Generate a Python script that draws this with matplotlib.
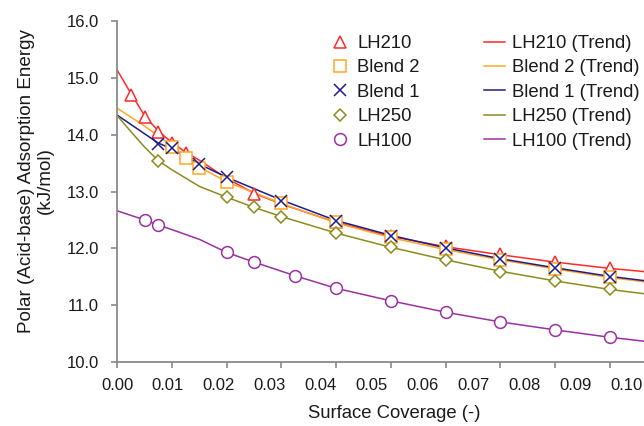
import matplotlib
matplotlib.use("Agg")
import matplotlib.pyplot as plt
from matplotlib.ticker import FixedLocator, FixedFormatter

plt.rcParams['font.family'] = ['Liberation Sans', 'DejaVu Sans']

# ---------------- data ----------------
series_names = ["LH210", "Blend 2", "Blend 1", "LH250", "LH100"]

lh210_x = [0.0025, 0.005, 0.0075, 0.01, 0.0125, 0.025, 0.04, 0.05, 0.06, 0.07, 0.08, 0.09]
lh210_y = [14.70, 14.31, 14.05, 13.86, 13.68, 12.96, 12.47, 12.22, 12.04, 11.90, 11.77, 11.65]

blend2_x = [0.01, 0.0125, 0.015, 0.02, 0.03, 0.04, 0.05, 0.06, 0.07, 0.08, 0.09]
blend2_y = [13.78, 13.59, 13.42, 13.17, 12.80, 12.46, 12.20, 11.99, 11.80, 11.64, 11.49]

blend1_x = [0.0075, 0.01, 0.015, 0.02, 0.03, 0.04, 0.05, 0.06, 0.07, 0.08, 0.09]
blend1_y = [13.83, 13.76, 13.48, 13.25, 12.84, 12.48, 12.22, 12.00, 11.81, 11.65, 11.50]

lh250_x = [0.0075, 0.02, 0.025, 0.03, 0.04, 0.05, 0.06, 0.07, 0.08, 0.09]
lh250_y = [13.54, 12.90, 12.72, 12.56, 12.27, 12.02, 11.80, 11.59, 11.43, 11.28]

lh100_x = [0.005, 0.0075, 0.02, 0.025, 0.0325, 0.04, 0.05, 0.06, 0.07, 0.08, 0.09]
lh100_y = [12.50, 12.41, 11.93, 11.76, 11.52, 11.30, 11.08, 10.88, 10.71, 10.57, 10.44]

# trend lines
lh210_trend_x = [0, 0.0025, 0.005, 0.0075, 0.01, 0.0125, 0.015, 0.02, 0.025, 0.03, 0.04, 0.05, 0.06, 0.07, 0.08, 0.09, 0.10, 0.11]
lh210_trend_y = [15.13, 14.72, 14.33, 14.06, 13.86, 13.69, 13.55, 13.23, 12.97, 12.78, 12.46, 12.21, 12.03, 11.89, 11.76, 11.65, 11.56, 11.48]

blend2_trend_x = [0, 0.005, 0.01, 0.0125, 0.015, 0.02, 0.03, 0.04, 0.05, 0.06, 0.07, 0.08, 0.09, 0.10, 0.11]
blend2_trend_y = [14.46, 14.15, 13.80, 13.60, 13.43, 13.17, 12.79, 12.45, 12.19, 11.98, 11.80, 11.64, 11.49, 11.37, 11.26]

blend1_trend_x = [0, 0.0075, 0.01, 0.015, 0.02, 0.03, 0.04, 0.05, 0.06, 0.07, 0.08, 0.09, 0.10, 0.11]
blend1_trend_y = [14.34, 13.85, 13.75, 13.48, 13.25, 12.85, 12.49, 12.23, 12.01, 11.82, 11.66, 11.51, 11.39, 11.28]

lh250_trend_x = [0, 0.0025, 0.005, 0.0075, 0.01, 0.015, 0.02, 0.025, 0.03, 0.04, 0.05, 0.06, 0.07, 0.08, 0.09, 0.10, 0.11]
lh250_trend_y = [14.33, 14.05, 13.78, 13.54, 13.38, 13.09, 12.90, 12.72, 12.56, 12.27, 12.02, 11.80, 11.60, 11.43, 11.28, 11.16, 11.05]

lh100_trend_x = [0, 0.005, 0.0075, 0.01, 0.015, 0.02, 0.025, 0.0325, 0.04, 0.05, 0.06, 0.07, 0.08, 0.09, 0.10, 0.11]
lh100_trend_y = [12.66, 12.50, 12.41, 12.33, 12.16, 11.93, 11.76, 11.52, 11.30, 11.08, 10.88, 10.71, 10.57, 10.44, 10.33, 10.23]

x_tick_values = [0.00, 0.01, 0.02, 0.03, 0.04, 0.05, 0.06, 0.07, 0.08, 0.09, 0.10]
x_tick_labels = ["0.00", "0.01", "0.02", "0.03", "0.04", "0.05", "0.06", "0.07", "0.08", "0.09", "0.10"]
y_tick_values = [10, 11, 12, 13, 14, 15, 16]
y_tick_labels = ["10.0", "11.0", "12.0", "13.0", "14.0", "15.0", "16.0"]

# ---------------- style ----------------
colors = ["#FF2A2A", "#FFA726", "#1C1C8C", "#8C8C1E", "#9B30A3"]
markers = ["^", "s", "x", "D", "o"]
msizes = [9, 8, 8, 6, 8.5]

W, H = 644, 426
fig = plt.figure(figsize=(W / 100, H / 100), dpi=100)
ax_left, ax_bottom_px, ax_top_px = 117.3, 362.3, 20.7
px_per_unit_x = 5470.0
xmax = 0.11
ax_w_px = xmax * px_per_unit_x
ax_h_px = ax_bottom_px - ax_top_px
ax = fig.add_axes([ax_left / W, (H - ax_bottom_px) / H, ax_w_px / W, ax_h_px / H])

trend_x = [lh210_trend_x, blend2_trend_x, blend1_trend_x, lh250_trend_x, lh100_trend_x]
trend_y = [lh210_trend_y, blend2_trend_y, blend1_trend_y, lh250_trend_y, lh100_trend_y]
pts_x = [lh210_x, blend2_x, blend1_x, lh250_x, lh100_x]
pts_y = [lh210_y, blend2_y, blend1_y, lh250_y, lh100_y]

line_handles = []
for i in range(5):
    h, = ax.plot(trend_x[i], trend_y[i], color=colors[i], lw=1.1, zorder=2,
                 label=series_names[i] + " (Trend)")
    line_handles.append(h)

marker_handles = []
for i in range(5):
    h, = ax.plot(pts_x[i], pts_y[i], linestyle="none", marker=markers[i],
                 markersize=msizes[i], markerfacecolor="white", markeredgecolor=colors[i],
                 markeredgewidth=1.1, zorder=3 + i, label=series_names[i])
    marker_handles.append(h)

ax.set_xlim(0, xmax)
ax.set_ylim(10, 16)

for s in ["top", "right"]:
    ax.spines[s].set_visible(False)
for s in ["left", "bottom"]:
    ax.spines[s].set_color("#8a8a8a")
    ax.spines[s].set_linewidth(1.3)

# x: tick marks at 0.01 steps (unlabelled), printed labels at their own positions
ax.xaxis.remove_overlapping_locs = False
ax.xaxis.set_major_locator(FixedLocator(x_tick_values))
ax.xaxis.set_major_formatter(FixedFormatter([""] * len(x_tick_values)))
label_step = 51.0 / px_per_unit_x
label_pos = [max(0.0, -1.2 / px_per_unit_x + label_step * i) for i in range(len(x_tick_labels))]
ax.xaxis.set_minor_locator(FixedLocator(label_pos))
ax.xaxis.set_minor_formatter(FixedFormatter(x_tick_labels))
ax.tick_params(axis="x", which="major", direction="out", length=4, width=1.2,
               color="#8a8a8a")
ax.tick_params(axis="x", which="minor", length=0, pad=11, labelsize=12,
               labelcolor="#1a1a1a")

ax.yaxis.set_major_locator(FixedLocator(y_tick_values))
ax.yaxis.set_major_formatter(FixedFormatter(y_tick_labels))
ax.tick_params(axis="y", which="major", direction="out", length=4, width=1.2,
               color="#8a8a8a", pad=9, labelsize=12, labelcolor="#1a1a1a")

ax.set_ylabel("Polar (Acid-base) Adsorption Energy\n(kJ/mol)", fontsize=13.6,
              color="#1a1a1a", linespacing=1.12)
ax.yaxis.set_label_coords((54 - ax_left) / ax_w_px, (ax_bottom_px - 181) / ax_h_px)

ax.set_xlabel("Surface Coverage (-)", fontsize=13.3, color="#1a1a1a")
ax.xaxis.set_label_coords((394 - ax_left) / ax_w_px, -(405 - ax_bottom_px) / ax_h_px)
ax.xaxis.label.set_va("top")

handles = marker_handles + line_handles
leg = fig.legend(handles=handles, labels=[h.get_label() for h in handles],
                 ncol=2, loc="upper left",
                 bbox_to_anchor=(329.5 / W, 1 - 35.0 / H), bbox_transform=fig.transFigure,
                 frameon=False, fontsize=13.3, handlelength=1.135, handletextpad=0.38,
                 columnspacing=3.46, labelspacing=0.4, borderpad=0, borderaxespad=0)
for t in leg.get_texts():
    t.set_color("#1a1a1a")

fig.savefig("out.png", dpi=100)
